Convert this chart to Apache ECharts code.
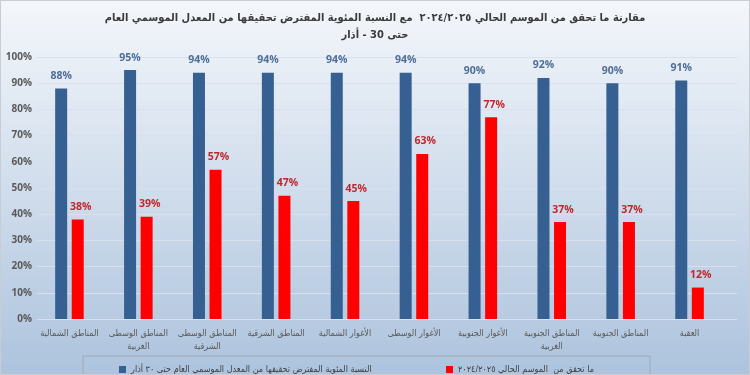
<!DOCTYPE html>
<html>
<head>
<meta charset="utf-8">
<script src="https://cdn.jsdelivr.net/npm/echarts@6/dist/echarts.min.js"></script>
<style>
html,body{margin:0;padding:0;}
#c{width:750px;height:375px;}
</style>
</head>
<body>
<div id="c" dir="rtl"></div>
<script>
const categories = ['المناطق الشمالية','المناطق الوسطى الغربية','المناطق الوسطى الشرقية','المناطق الشرقية','الأغوار الشمالية','الأغوار الوسطى','الأغوار الجنوبية','المناطق الجنوبية الغربية','المناطق الجنوبية','العقبة'];
const expectedShare = [88,95,94,94,94,94,90,92,90,91];
const achievedShare = [38,39,57,47,45,63,77,37,37,12];
const yTicks = [0,10,20,30,40,50,60,70,80,90,100];
const seriesNames = ['النسبة المئوية المفترض تحقيقها من المعدل الموسمي العام حتى ٣٠ أذار','ما تحقق من  الموسم الحالي ٢٠٢٤/٢٠٢٥'];
const titleText = 'مقارنة ما تحقق من الموسم الحالي ٢٠٢٤/٢٠٢٥  مع النسبة المئوية المفترض تحقيقها من المعدل الموسمي العام\nحتى 30 - أذار';

const chart = echarts.init(document.getElementById('c'), null, {renderer:'canvas'});
const font = '"DejaVu Sans Condensed", "DejaVu Sans", sans-serif';
const numFont = '"Open Sans", "DejaVu Sans", sans-serif';
const option = {
  backgroundColor: {type:'linear', x:0, y:0, x2:0, y2:1, colorStops:[{offset:0,color:'#f4f7fb'},{offset:1,color:'#adc3dd'}]},
  animation: false,
  textStyle: {fontFamily: font},
  title: {
    text: titleText, left: 'center', top: 5,
    textStyle: {fontSize: 11, fontWeight: 'bold', color: '#3a3a3a', lineHeight: 17, fontFamily: font}
  },
  legend: [
    {data:[seriesNames[0]], left:114, top:360, itemWidth:7, itemHeight:7, itemGap:10, icon:'rect',
     textStyle:{fontSize:9, color:'#404040', fontFamily:font}},
    {data:[seriesNames[1]], left:441, top:360, itemWidth:7, itemHeight:7, itemGap:10, icon:'rect',
     textStyle:{fontSize:9, color:'#404040', fontFamily:font}}
  ],
  graphic: [
    {type:'rect', shape:{x:83, y:356, width:567, height:22}, style:{fill:'none', stroke:'#a0a8b4', lineWidth:1}, silent:true},
    {type:'rect', shape:{x:0.5, y:0.5, width:749, height:374}, style:{fill:'none', stroke:'#c8cdd4', lineWidth:1}, silent:true}
  ],
  grid: [
    {left:37, right:13, top:57, bottom:56},
    {left:35, right:26, top:57, bottom:56}
  ],
  xAxis: [
    {gridIndex:0, type:'category', data:categories, show:false},
    {gridIndex:1, type:'category', data:categories,
     axisLine:{show:false}, axisTick:{show:false},
     axisLabel:{interval:0, margin:8, fontSize:9, color:'#595959', lineHeight:13, fontFamily:font,
       formatter: v => { const w = v.split(' '); return w.length > 2 ? w.slice(0,2).join(' ') + '\n' + w.slice(2).join(' ') : v; }}}
  ],
  yAxis: [
    {gridIndex:0, type:'value', min:yTicks[0], max:yTicks[yTicks.length-1], interval:10,
     axisLine:{show:false}, axisTick:{show:false},
     splitLine:{lineStyle:{color:'#d7e0eb', width:1}},
     axisLabel:{margin:5, fontSize:10, fontWeight:'bold', color:'#595959', formatter:'{value}%', fontFamily:numFont}},
    {gridIndex:1, type:'value', min:0, max:100, interval:10, show:false, splitLine:{show:false}}
  ],
  series: [
    {name:seriesNames[0], type:'bar', xAxisIndex:1, yAxisIndex:1, data:expectedShare,
     barWidth:12, barGap:'38%', itemStyle:{color:'#366092'},
     label:{show:true, position:'top', distance:7, formatter:'{c}%', fontSize:10.5, fontWeight:'bold', color:'#4f6e98', fontFamily:numFont}},
    {name:seriesNames[1], type:'bar', xAxisIndex:1, yAxisIndex:1, data:achievedShare,
     barWidth:12, itemStyle:{color:'#ff0000'},
     label:{show:true, position:'top', distance:7, offset:[3,0], formatter:'{c}%', fontSize:10.5, fontWeight:'bold', color:'#c0282d', fontFamily:numFont}}
  ]
};
chart.setOption(option);
</script>
</body>
</html>
